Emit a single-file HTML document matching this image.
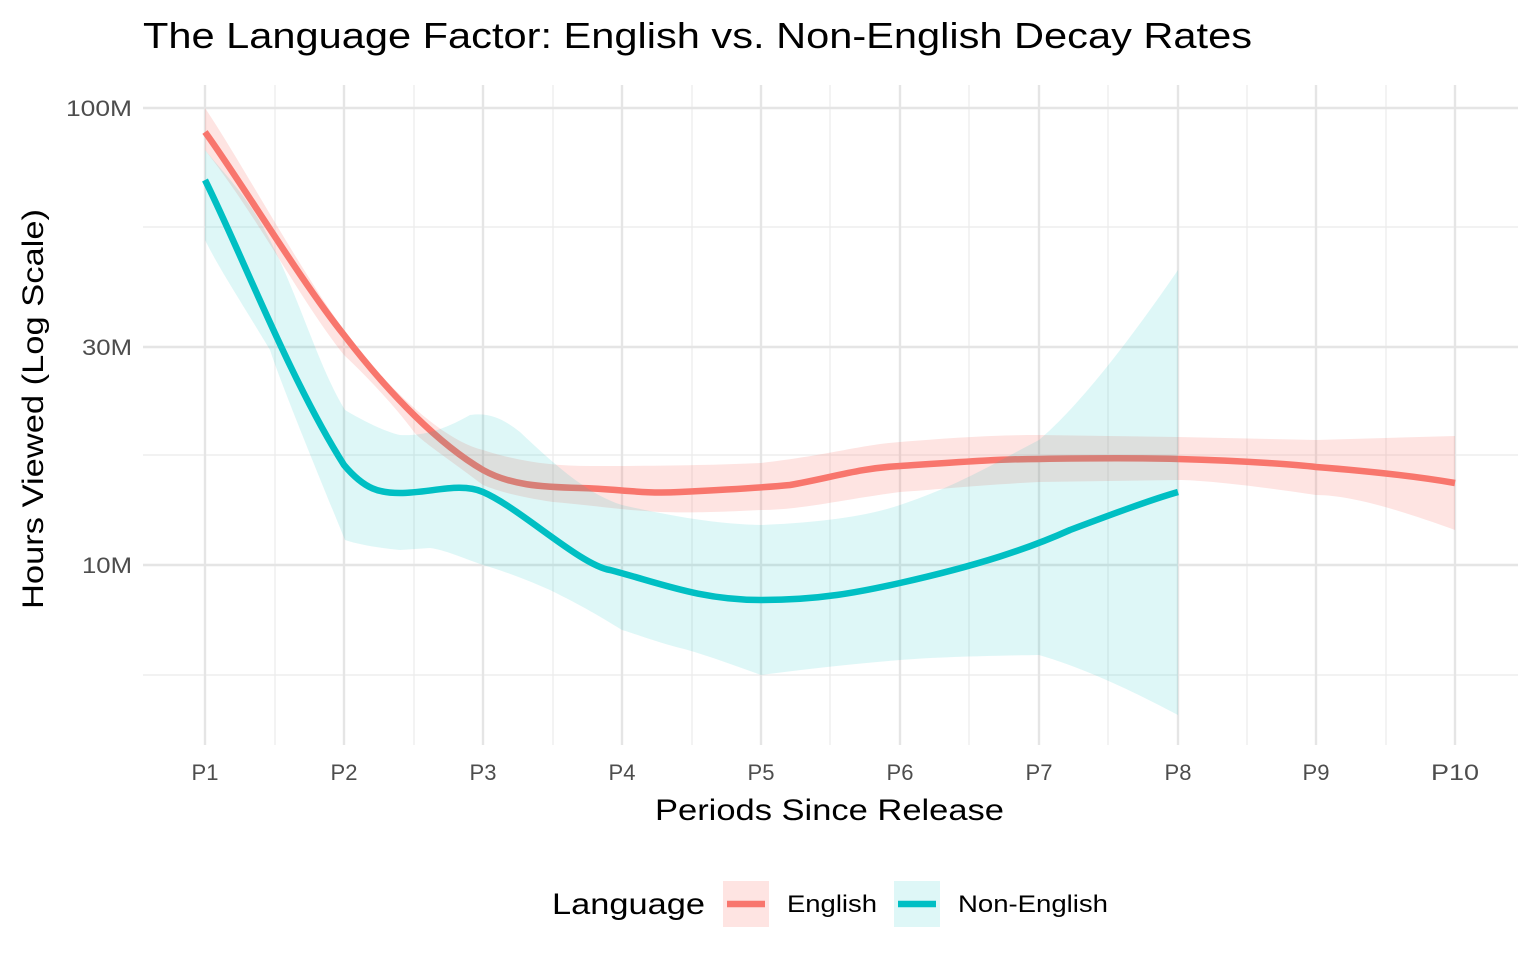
<!DOCTYPE html>
<html><head><meta charset="utf-8"><style>body{margin:0;background:#fff}svg{display:block}text{font-family:"Liberation Sans",sans-serif}</style></head><body>
<svg width="1536" height="960" viewBox="0 0 1536 960">
<rect width="1536" height="960" fill="#fff"/>
<g stroke="#ebebeb" stroke-width="1.2">
<line x1="143" x2="1518" y1="227" y2="227"/><line x1="143" x2="1518" y1="455" y2="455"/><line x1="143" x2="1518" y1="675" y2="675"/>
<line x1="275" x2="275" y1="85" y2="745"/><line x1="414" x2="414" y1="85" y2="745"/><line x1="553" x2="553" y1="85" y2="745"/><line x1="692" x2="692" y1="85" y2="745"/><line x1="830" x2="830" y1="85" y2="745"/><line x1="969" x2="969" y1="85" y2="745"/><line x1="1108" x2="1108" y1="85" y2="745"/><line x1="1247" x2="1247" y1="85" y2="745"/><line x1="1386" x2="1386" y1="85" y2="745"/>
</g>
<g stroke="#e5e5e5" stroke-width="2.4">
<line x1="143" x2="1518" y1="108" y2="108"/><line x1="143" x2="1518" y1="347" y2="347"/><line x1="143" x2="1518" y1="565" y2="565"/>
<line x1="205" x2="205" y1="85" y2="745"/><line x1="344" x2="344" y1="85" y2="745"/><line x1="483" x2="483" y1="85" y2="745"/><line x1="622" x2="622" y1="85" y2="745"/><line x1="761" x2="761" y1="85" y2="745"/><line x1="900" x2="900" y1="85" y2="745"/><line x1="1039" x2="1039" y1="85" y2="745"/><line x1="1178" x2="1178" y1="85" y2="745"/><line x1="1316" x2="1316" y1="85" y2="745"/><line x1="1455" x2="1455" y1="85" y2="745"/>
</g>
<path d="M205,132 C240,180 300,280 344,335 C390,395 440,445 483,470 C510,485 540,487 580,488 C620,489 640,494 680,492 C720,490 760,488 790,485 C830,478 860,468 900,466 C960,462 1000,459 1039,459 C1100,458 1140,458 1178,459 C1250,461 1300,465 1316,467 C1380,472 1420,477 1455,483" fill="none" stroke="#F8766D" stroke-width="6.5"/>
<path d="M205,180 C240,250 290,380 344,465 C365,490 380,493 400,493 C430,493 460,482 483,492 C520,508 580,565 610,570 C660,583 700,600 761,600 C820,600 860,592 900,583 C980,565 1030,548 1070,530 C1110,515 1150,500 1178,492" fill="none" stroke="#00BFC4" stroke-width="6.5"/>
<path d="M205,108 C240,160 300,270 344,330 C380,380 440,440 483,450 C520,462 553,466 590,466 C660,466 720,465 761,463 C830,455 860,445 900,442 C960,437 1000,435 1039,435 L1178,437 L1316,440 L1455,436 L1455,530 C1400,510 1350,495 1316,495 C1250,485 1200,480 1178,480 L1039,482 C980,485 930,490 900,492 C840,500 800,510 761,510 C720,512 692,513 660,512 C620,510 590,505 553,502 C520,497 500,492 483,485 C450,460 420,440 414,432 C390,400 360,370 344,355 C300,300 260,220 205,150 Z" fill="#F8766D" fill-opacity="0.2"/>
<path d="M205,150 C230,180 250,200 270,240 C300,300 320,370 345,410 C370,425 390,433 400,435 C420,436 440,432 470,415 C490,412 505,420 520,432 C560,470 590,495 622,505 C680,518 720,524 761,525 C830,522 870,515 900,505 C960,485 1000,460 1039,440 C1080,405 1130,340 1178,270 L1178,715 C1140,695 1090,670 1039,655 C980,656 940,657 900,660 C840,665 800,670 761,675 C720,660 690,650 680,648 C650,640 630,632 622,630 C590,610 570,600 550,590 C520,577 500,570 483,565 C460,557 445,550 430,548 L400,550 C380,548 360,545 345,540 C300,430 280,380 270,350 C240,300 220,270 205,240 Z" fill="#00BFC4" fill-opacity="0.13"/>
<g font-size="22" fill="#4d4d4d" text-anchor="end"><text x="132" y="116" textLength="66" lengthAdjust="spacingAndGlyphs">100M</text><text x="132" y="355" textLength="50" lengthAdjust="spacingAndGlyphs">30M</text><text x="132" y="573" textLength="50" lengthAdjust="spacingAndGlyphs">10M</text></g>
<g font-size="22" fill="#4d4d4d" text-anchor="middle"><text x="205" y="780">P1</text><text x="344" y="780">P2</text><text x="483" y="780">P3</text><text x="622" y="780">P4</text><text x="761" y="780">P5</text><text x="900" y="780">P6</text><text x="1039" y="780">P7</text><text x="1178" y="780">P8</text><text x="1316" y="780">P9</text><text x="1455" y="780" textLength="48" lengthAdjust="spacingAndGlyphs">P10</text></g>
<text x="655" y="820" font-size="30" fill="#000" textLength="349" lengthAdjust="spacingAndGlyphs">Periods Since Release</text>
<text transform="translate(43,609) rotate(-90)" font-size="30" fill="#000" textLength="400" lengthAdjust="spacingAndGlyphs">Hours Viewed (Log Scale)</text>
<text x="143" y="48" font-size="36" fill="#000" textLength="1109" lengthAdjust="spacingAndGlyphs">The Language Factor: English vs. Non-English Decay Rates</text>
<text x="552" y="914" font-size="30" fill="#000" textLength="153" lengthAdjust="spacingAndGlyphs">Language</text>
<rect x="723" y="881" width="46" height="46" fill="#F8766D" fill-opacity="0.2"/><line x1="727" x2="765" y1="904" y2="904" stroke="#F8766D" stroke-width="6.5"/>
<text x="787" y="912" font-size="24" fill="#000" textLength="90" lengthAdjust="spacingAndGlyphs">English</text>
<rect x="894" y="881" width="46" height="46" fill="#00BFC4" fill-opacity="0.13"/><line x1="898" x2="936" y1="904" y2="904" stroke="#00BFC4" stroke-width="6.5"/>
<text x="958" y="912" font-size="24" fill="#000" textLength="150" lengthAdjust="spacingAndGlyphs">Non-English</text>
</svg>
</body></html>
